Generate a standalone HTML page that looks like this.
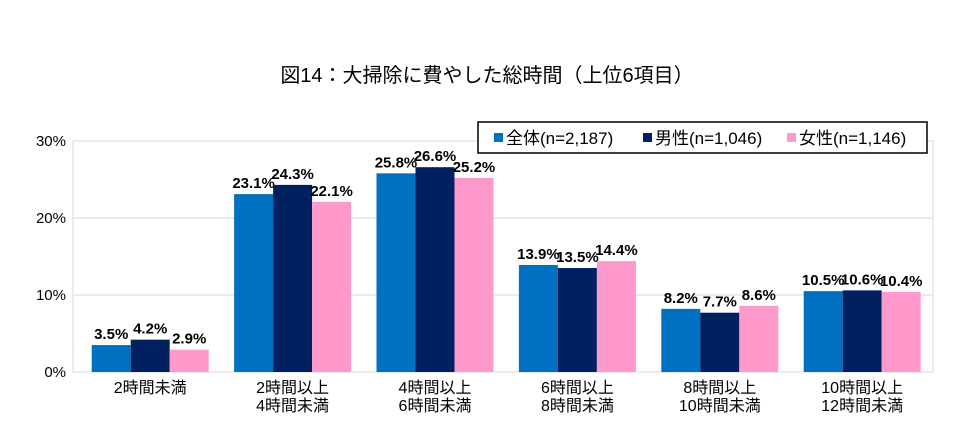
<!DOCTYPE html>
<html><head><meta charset="utf-8"><style>
body{margin:0;background:#fff;}
svg{display:block;font-family:"Liberation Sans","Noto Sans CJK JP",sans-serif;}
</style></head><body>
<svg id="c" width="974" height="447" viewBox="0 0 974 447">
<text x="487" y="82" text-anchor="middle" font-size="20" fill="#000">図14：大掃除に費やした総時間（上位6項目）</text>
<rect x="73" y="141" width="860" height="231" fill="none" stroke="#d9d9d9"/>
<g id="grid"></g><g id="bars"></g><g id="xl"></g>
<g>
<rect x="478" y="122" width="449" height="31" fill="#fff" stroke="#000" stroke-width="1.5"/>
<rect x="494" y="133" width="9" height="9" fill="#0070C0"/>
<text x="506" y="144" font-size="17">全体(n=2,187)</text>
<rect x="643" y="133" width="9" height="9" fill="#002060"/>
<text x="655" y="144" font-size="17">男性(n=1,046)</text>
<rect x="787" y="133" width="9" height="9" fill="#FF99CC"/>
<text x="799" y="144" font-size="17">女性(n=1,146)</text>
</g>
</svg>
<script>
const categories=[["2時間未満"],["2時間以上","4時間未満"],["4時間以上","6時間未満"],["6時間以上","8時間未満"],["8時間以上","10時間未満"],["10時間以上","12時間未満"]];
const total=[3.5,23.1,25.8,13.9,8.2,10.5];
const male=[4.2,24.3,26.6,13.5,7.7,10.6];
const female=[2.9,22.1,25.2,14.4,8.6,10.4];
const ticks=[0,10,20,30];
const seriesNames=["total","male","female"];
const NS="http://www.w3.org/2000/svg";
const y0=372,ppu=231/30,gx0=79,gw=142.4,bw=39;
const y=v=>y0-v*ppu;
const mk=(t,a,p)=>{const e=document.createElementNS(NS,t);for(const k in a)e.setAttribute(k,a[k]);document.getElementById(p).appendChild(e);return e;};
ticks.forEach(t=>{
 if(t>0&&t<30){const l=mk("line",{x1:73,x2:933,y1:y(t),y2:y(t),stroke:"#d9d9d9"},"grid");
 
 }
 const tx=mk("text",{x:66,y:y(t)+5,"text-anchor":"end","font-size":"15"},"grid");tx.textContent=t+"%";
 
 
});
const series=[total,male,female],colors=["#0070C0","#002060","#FF99CC"];
categories.forEach((c,i)=>{
 const cx=gx0+gw*(i+0.5);
 series.forEach((s,j)=>{
  const x=cx-1.5*bw+j*bw;
  const r=mk("rect",{x:x,y:y(s[i]),width:bw,height:s[i]*ppu,fill:colors[j]},"bars");
  
  
  const t=mk("text",{x:x+bw/2,y:y(s[i])-6,"text-anchor":"middle","font-size":"15","font-weight":"bold"},"bars");
  t.textContent=s[i].toFixed(1)+"%";
  
  
 });
 c.forEach((ln,k)=>{
  const t=mk("text",{x:cx,y:393+k*18,"text-anchor":"middle","font-size":"16"},"xl");
  t.textContent=ln;
  
  
 });
});
</script>
</body></html>
